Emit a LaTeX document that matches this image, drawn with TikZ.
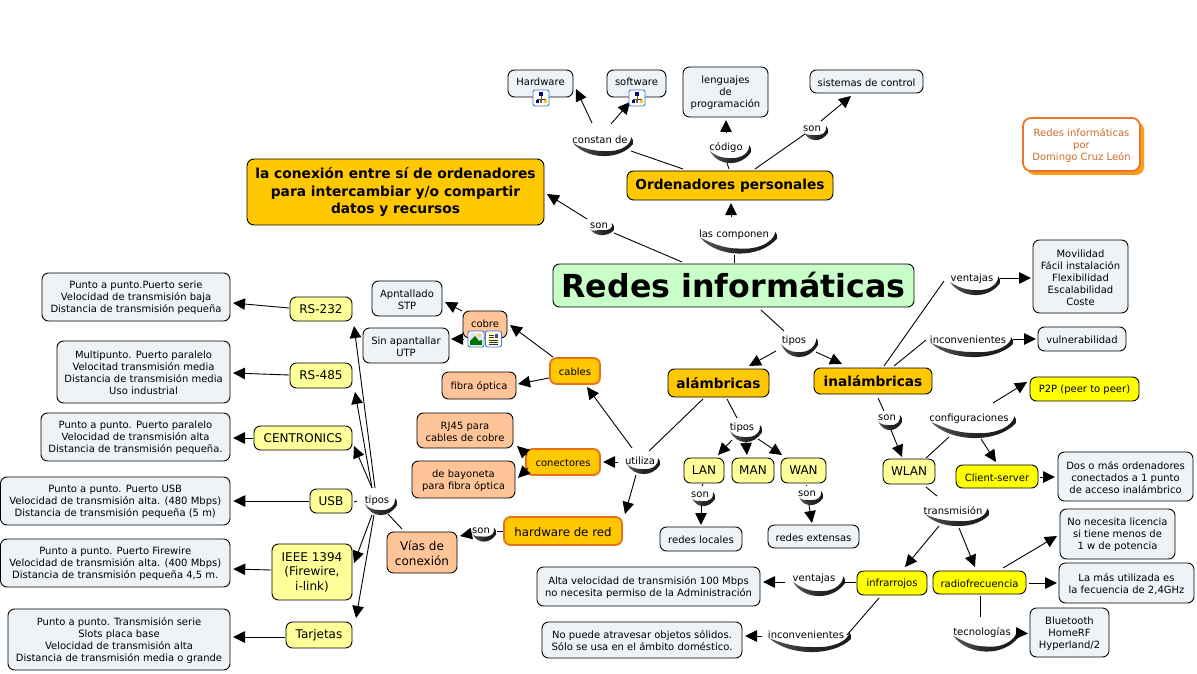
\documentclass[tikz,border=0pt]{standalone}
\usepackage{fontspec}
\setmainfont{DejaVu Sans}
\usetikzlibrary{arrows.meta}
\definecolor{cblue}{HTML}{EDF3F6}
\definecolor{clite}{HTML}{FFFF99}
\definecolor{cyel}{HTML}{FFFF00}
\definecolor{cpeach}{HTML}{FFC599}
\definecolor{camber}{HTML}{FFC800}
\definecolor{cgreen}{HTML}{C8FFC8}
\definecolor{cedge}{HTML}{E8701A}
\definecolor{ctitle}{HTML}{E8762D}
\definecolor{cshad}{HTML}{FF9A1A}
\definecolor{cicon}{HTML}{3B7AD0}
\tikzset{
  bx/.style={draw=black,line width=0.9pt,rounded corners=6.5pt,inner sep=0pt,align=center,text=black,font=\fontsize{10}{12}\selectfont},
  txtbox/.style={bx,fill=cblue},
  litebox/.style={bx,fill=clite,font=\fontsize{12}{14.6}\selectfont},
  yelbox/.style={bx,fill=cyel},
  peachbox/.style={bx,fill=cpeach},
  mainbox/.style={bx,fill=camber,font=\bfseries\fontsize{13.7}{17.5}\selectfont},
  hotbox/.style={bx,fill=camber,draw=cedge,line width=1.8pt,font=\fontsize{10}{12}\selectfont},
  linktext/.style={inner sep=0pt,text=black,font=\fontsize{10}{12}\selectfont},
  plain/.style={line width=0.9pt,black},
  arr/.style={plain,-{Triangle[length=12pt,width=11.5pt]}}
}
\newcommand{\mbx}[7]{\node[#1,minimum width={(#5-#3)*1pt},minimum height={(#6-#4)*1pt}] (#2) at ({(#3+#5)/2},{(#4+#6)/2}) {#7};}
\newcommand{\tbx}[7]{\node[#1,minimum width={(#5-#3)*1pt},minimum height={(#6-#4)*1pt}] (#2) at ({(#3+#5)/2},{(#4+#6)/2}) {\rule{0pt}{0.95em}#7};}
% name, cx, cy, text, L, R, D
\newcommand{\lnk}[7]{%
  \shade[left color=black!65,right color=black!90,middle color=black!85]
   ({#2-#5},{#3+3}) .. controls ({#2-#5*0.45},{#3+3+(#7-3)*1.33}) and ({#2+#6*0.6},{#3+3+(#7-3)*1.33}) .. ({#2+#6},{#3+4})
   .. controls ({#2+#6+0.5},{#3+1}) and ({#2+#6},{#3-1}) .. ({#2+#6-2},{#3-3})
   .. controls ({#2+#6-1},{#3+3}) and ({#2+#6*0.7},{#3+(#7-5)*1.15}) .. ({#2+#6*0.1},{#3+#7-5})
   .. controls ({#2-#5*0.4},{#3+#7-5}) and ({#2-#5*0.8},{#3+6}) .. ({#2-#5},{#3+3}) -- cycle;
  \node[linktext] (#1) at (#2,#3) {#4};}
\newcommand{\cn}[5][plain]{\draw[#1] ([shift={(#3)}]#2.center) -- ([shift={(#5)}]#4.center);}
\newcommand{\icframe}[2]{\draw[cicon,line width=0.9pt,rounded corners=2pt,fill=white] (#1,#2) rectangle ({#1+16},{#2+16});}
\newcommand{\mapicon}[2]{\icframe{#1}{#2}
  \begin{scope}[shift={(#1,#2)}]
   \draw[black!70,line width=0.6pt] (8,6)--(8,9) (4,12)--(4,9)--(12,9)--(12,12) (8,9)--(8,12);
   \fill[blue!55!black] (6,2.5) rectangle (10,6);
   \fill[blue!60!black] (2.5,10.5) rectangle (5.5,13.5);
   \fill[orange!70!black] (6.7,10.5) rectangle (9.3,13.5);
   \fill[yellow!70!orange] (10.5,10.5) rectangle (13.5,13.5);
  \end{scope}}
\newcommand{\imgicon}[2]{\icframe{#1}{#2}
  \begin{scope}[shift={(#1,#2)}]
   \fill[blue!12] (2,2) rectangle (14,14);
   \fill[green!45!black] (2,14) -- (2,10) -- (7,5) -- (11,10) -- (14,9) -- (14,14) -- cycle;
   \fill[yellow!80!orange] (11.5,4.5) circle (1.8);
  \end{scope}}
\newcommand{\docicon}[2]{\icframe{#1}{#2}
  \begin{scope}[shift={(#1,#2)}]
   \fill[yellow!25] (2.5,2) rectangle (13.5,14);
   \draw[black!80,line width=0.8pt] (3.5,4)--(8,4) (3.5,6.5)--(8,6.5) (3.5,9)--(12.5,9) (3.5,11)--(12.5,11) (3.5,13)--(12.5,13);
   \fill[blue!50!gray] (9,3) rectangle (12.5,7);
  \end{scope}}
\begin{document}
\begin{tikzpicture}[x=1pt,y=-1pt]
\useasboundingbox (0,0) rectangle (1197,674);
% top branch
\mbx{txtbox}{hw}{508}{70}{573}{97}{\raisebox{4pt}{Hardware}}
\mbx{txtbox}{sw}{607}{70}{666}{97}{\raisebox{4pt}{software}}
\tbx{txtbox}{leng}{683}{67}{768}{117}{lenguajes\\de\\programación}
\tbx{txtbox}{sist}{810}{70}{923}{93}{sistemas de control}
\mbx{mainbox}{ord}{627}{171}{833}{200}{Ordenadores personales}
\mbx{bx,fill=cgreen,font=\bfseries\fontsize{31.7}{36}\selectfont,text=black}{redes}{553}{264}{914}{307}{Redes informáticas}
\mbx{mainbox,font=\bfseries\fontsize{13.8}{17.5}\selectfont,rounded corners=7pt}{conex}{247}{159}{544}{225}{la conexión entre sí de ordenadores\\para intercambiar y/o compartir\\datos y recursos}
% title
\fill[cshad,rounded corners=8pt] (1027,122) rectangle (1144,175);
\tbx{bx,fill=white,draw=ctitle,line width=1.8pt,text=ctitle!90!black,rounded corners=8pt}{titulo}{1023}{118}{1140}{171}{Redes informáticas\\por\\Domingo Cruz León}
% left
\tbx{txtbox}{apn}{372}{281}{442}{316}{Apntallado\\STP}
\tbx{txtbox}{sin}{363}{328}{449}{363}{Sin apantallar\\UTP}
\mbx{peachbox}{cobre}{463}{311}{507}{338}{\raisebox{2.5pt}{cobre}}
\tbx{peachbox}{fibra}{442}{372}{516}{399}{fibra óptica}
\tbx{hotbox}{cables}{550}{358}{600}{384}{cables}
\tbx{peachbox}{rj}{417}{413}{513}{448}{RJ45 para\\cables de cobre}
\tbx{hotbox}{conec}{526}{449}{600}{475}{conectores}
\tbx{peachbox}{bayo}{412}{461}{515}{498}{de bayoneta\\para fibra óptica}
\tbx{hotbox,font=\fontsize{11.8}{14}\selectfont}{hred}{504}{517}{622}{545}{hardware de red}
\tbx{peachbox,font=\fontsize{12}{15}\selectfont}{vias}{387}{532}{457}{573}{Vías de\\conexión}
\tbx{txtbox}{rsad}{42}{273}{230}{321}{Punto a punto.Puerto serie\\Velocidad de transmisión baja\\Distancia de transmisión pequeña}
\mbx{litebox}{rsa}{290}{297}{352}{321}{RS-232}
\tbx{txtbox}{rsbd}{57}{341}{230}{403}{Multipunto. Puerto paralelo\\Velocitad transmisión media\\Distancia de transmisión media\\Uso industrial}
\mbx{litebox}{rsb}{290}{363}{352}{388}{RS-485}
\tbx{txtbox}{cend}{41}{413}{230}{461}{Punto a punto. Puerto paralelo\\Velocidad de transmisión alta\\Distancia de transmisión pequeña.}
\mbx{litebox}{cen}{254}{426}{352}{450}{CENTRONICS}
\tbx{txtbox}{usbd}{0.5}{477}{230}{525}{Punto a punto. Puerto USB\\Velocidad de transmisión alta. (480 Mbps)\\Distancia de transmisión pequeña (5 m)}
\mbx{litebox}{usb}{310}{489}{352}{513}{USB}
\tbx{txtbox}{fwd}{0.5}{539}{230}{587}{Punto a punto. Puerto Firewire\\Velocidad de transmisión alta. (400 Mbps)\\Distancia de transmisión pequeña 4,5 m.}
\mbx{litebox}{ieee}{272}{544}{352}{600}{IEEE 1394\\(Firewire,\\i-link)}
\tbx{txtbox}{tard}{8}{609}{230}{670}{Punto a punto. Transmisión serie\\Slots placa base\\Velocidad de transmisión alta\\Distancia de transmisión media o grande}
\mbx{litebox}{tar}{286}{622}{352}{648}{Tarjetas}
% right
\tbx{txtbox}{mov}{1033}{240}{1128}{313}{Movilidad\\Fácil instalación\\Flexibilidad\\Escalabilidad\\Coste}
\tbx{txtbox}{vuln}{1038}{327}{1126}{351}{vulnerabilidad}
\mbx{mainbox}{alam}{668}{369}{769}{397}{alámbricas}
\mbx{mainbox}{inal}{814}{368}{932}{394}{inalámbricas}
\tbx{yelbox}{ptp}{1030}{377}{1139}{401}{P2P (peer to peer)}
\mbx{litebox}{wlan}{883}{459}{935}{484}{WLAN}
\tbx{yelbox}{client}{956}{465}{1038}{488}{Client-server}
\tbx{txtbox}{dos}{1058}{452}{1193}{501}{Dos o más ordenadores\\conectados a 1 punto\\de acceso inalámbrico}
\tbx{txtbox}{non}{1060}{509}{1175}{559}{No necesita licencia\\si tiene menos de\\1 w de potencia}
\tbx{txtbox}{lam}{1059}{563}{1194}{603}{La más utilizada es\\la fecuencia de 2,4GHz}
\tbx{yelbox}{infra}{857}{571}{927}{595}{infrarrojos}
\tbx{yelbox}{radio}{933}{571}{1026}{594}{radiofrecuencia}
\tbx{txtbox}{blue}{1030}{608}{1109}{657}{Bluetooth\\HomeRF\\Hyperland/2}
\mbx{litebox}{lan}{684}{458}{724}{483}{LAN}
\mbx{litebox}{man}{732}{458}{774}{483}{MAN}
\mbx{litebox}{wan}{781}{458}{826}{483}{WAN}
\tbx{txtbox}{rloc}{660}{527}{742}{551}{redes locales}
\tbx{txtbox}{rext}{768}{525}{859}{548}{redes extensas}
\tbx{txtbox}{alta}{537}{567}{760}{606}{Alta velocidad de transmisión 100 Mbps\\no necesita permiso de la Administración}
\tbx{txtbox}{nop}{542}{622}{742}{658}{No puede atravesar objetos sólidos.\\Sólo se usa en el ámbito doméstico.}
% link phrases
\lnk{constan}{600}{140}{constan de}{27}{33}{16}
\lnk{codigo}{726}{148}{código}{16}{25}{15}
\lnk{sona}{812}{129}{son}{8}{16}{11}
\lnk{compon}{734}{234.5}{las componen}{34}{43}{19}
\lnk{sonb}{599}{226}{son}{9}{15}{9}
\lnk{tipost}{794}{341}{tipos}{13}{24}{16}
\lnk{vent}{972}{279}{ventajas}{22}{28}{16}
\lnk{inci}{968}{340}{inconvenientes}{37}{45}{17}
\lnk{config}{969}{419}{configuraciones}{38}{47}{19}
\lnk{sonw}{887}{418}{son}{9}{15}{12}
\lnk{tiposm}{742}{428}{tipos}{12}{20}{14}
\lnk{utiliza}{640}{461}{utiliza}{13}{20}{13}
\lnk{sonh}{481}{530.5}{son}{9}{15}{11}
\lnk{tiposl}{377}{501}{tipos}{12}{20}{14}
\lnk{sonl}{700}{495}{son}{8}{15}{11}
\lnk{sonwan}{807}{494}{son}{8}{16}{11}
\lnk{trans}{953}{511}{transmisión}{28}{36}{15}
\lnk{venti}{814}{579}{ventajas}{21}{31}{17}
\lnk{incb}{806}{635}{inconvenientes}{37}{45}{17}
\lnk{tecno}{982}{632.5}{tecnologías}{29}{37}{19}
% connectors
\cn[arr]{constan}{-8,-17}{hw}{35.5,5.5}
\cn[arr]{constan}{11,-16}{sw}{-6.5,18.5}
\cn{ord}{-47,-16.5}{constan}{31,11}
\cn{ord}{-1,-16.5}{codigo}{1,15}
\cn[arr]{codigo}{0,-15}{leng}{0.5,28}
\cn{ord}{25,-16.5}{sona}{-7,5}
\cn[arr]{sona}{9,-8}{sist}{-15.5,14.5}
\cn{redes}{0.5,-22.5}{compon}{0,20.5}
\cn[arr]{compon}{-3,-17.5}{ord}{1,17.5}
\cn{redes}{-51.5,-23.5}{sonb}{15,7}
\cn[arr]{sonb}{-12,-7}{conex}{151.5,2}
\cn{redes}{27.5,24.5}{tipost}{-10,-10}
\cn[arr]{tipost}{-18,10}{alam}{30.5,-17}
\cn[arr]{tipost}{22,11}{inal}{-31,-17}
\cn{alam}{-15.5,16}{utiliza}{9,-10}
\cn{alam}{8.5,16}{tiposm}{-5,-10}
\cn[arr]{tiposm}{-10,12}{lan}{14,-15.5}
\cn[arr]{tiposm}{4,14}{man}{-6,-15.5}
\cn[arr]{tiposm}{16,11}{wan}{-21.5,-15.5}
\cn{lan}{-1,13.5}{sonl}{2,-9}
\cn[arr]{sonl}{1,11}{rloc}{0,-14}
\cn{wan}{2.5,14}{sonwan}{-1,-8}
\cn[arr]{sonwan}{2,11}{rext}{-1.5,-13.5}
\cn[arr]{cobre}{-23,-13.5}{apn}{38,3.5}
\cn[arr]{cobre}{-22,14.5}{sin}{45,-6.5}
\cn[arr]{cables}{-22,-14}{cobre}{25,0.5}
\cn[arr]{cables}{-26,7}{fibra}{39,-1.5}
\cn[arr]{utiliza}{-8,-13}{cables}{12,16}
\cn[arr]{utiliza}{-22,1}{conec}{40,0}
\cn[arr]{utiliza}{-4,14}{hred}{62,-17}
\cn[arr]{conec}{-36,-7}{rj}{52,15.5}
\cn[arr]{conec}{-35,6}{bayo}{54.5,-1.5}
\cn{hred}{-60,0}{sonh}{16,0.5}
\cn[arr]{sonh}{-9,3}{vias}{38,-16.5}
\cn{vias}{-20,-23.5}{tiposl}{11,13}
\cn[arr]{tiposl}{-2,-13}{rsa}{33,17}
\cn[arr]{tiposl}{-5,-13}{rsb}{34,16.5}
\cn[arr]{tiposl}{-5,-13}{cen}{51,8}
\cn{tiposl}{-20,0}{usb}{23,1}
\cn[arr]{tiposl}{-5,14}{ieee}{42,-9}
\cn[arr]{tiposl}{-3,14}{tar}{37,-17}
\cn[arr]{rsa}{-32,-1}{rsad}{97,6}
\cn[arr]{rsb}{-32,-0.5}{rsbd}{89.5,1}
\cn[arr]{cen}{-50,0}{cend}{97.5,1}
\cn[arr]{usb}{-22,0}{usbd}{118,0}
\cn[arr]{ieee}{-41,-2}{fwd}{118,6}
\cn[arr]{tar}{-34,2}{tard}{114,-2.5}
\cn{inal}{11,-15}{vent}{-28,2}
\cn[arr]{vent}{28,-1}{mov}{-49.5,1.5}
\cn{inal}{21,-15}{inci}{-42,0}
\cn[arr]{inci}{45,-1}{vuln}{-46,0}
\cn{inal}{5,17}{sonw}{-3,-7}
\cn[arr]{sonw}{4,12}{wlan}{-7,-14.5}
\cn{wlan}{17,-13.5}{config}{-20,18}
\cn[arr]{config}{24,-16}{ptp}{-57.5,-7}
\cn[arr]{config}{12,20}{client}{-1,-14.5}
\cn[arr]{client}{43,0.5}{dos}{-70.5,0.5}
\cn{wlan}{17,15.5}{trans}{-16,-15}
\cn[arr]{trans}{-14,15}{infra}{13,-16}
\cn[arr]{trans}{6,17}{radio}{-4.5,-15.5}
\cn[arr]{radio}{23.5,-14.5}{non}{-60.5,2}
\cn[arr]{radio}{49.5,0.5}{lam}{-69.5,0}
\cn{radio}{0.5,13.5}{tecno}{-2,-15.5}
\cn[arr]{tecno}{35,0.5}{blue}{-41.5,1}
\cn{infra}{-13,15}{incb}{41,0}
\cn{infra}{-36,-1}{venti}{29,3}
\cn[arr]{venti}{-29,3}{alta}{114.5,-4.5}
\cn[arr]{incb}{-44,1}{nop}{103,-4}
% icons
\mapicon{533}{90}
\mapicon{629}{90}
\imgicon{468}{331}
\docicon{485.5}{331}
\end{tikzpicture}
\end{document}
